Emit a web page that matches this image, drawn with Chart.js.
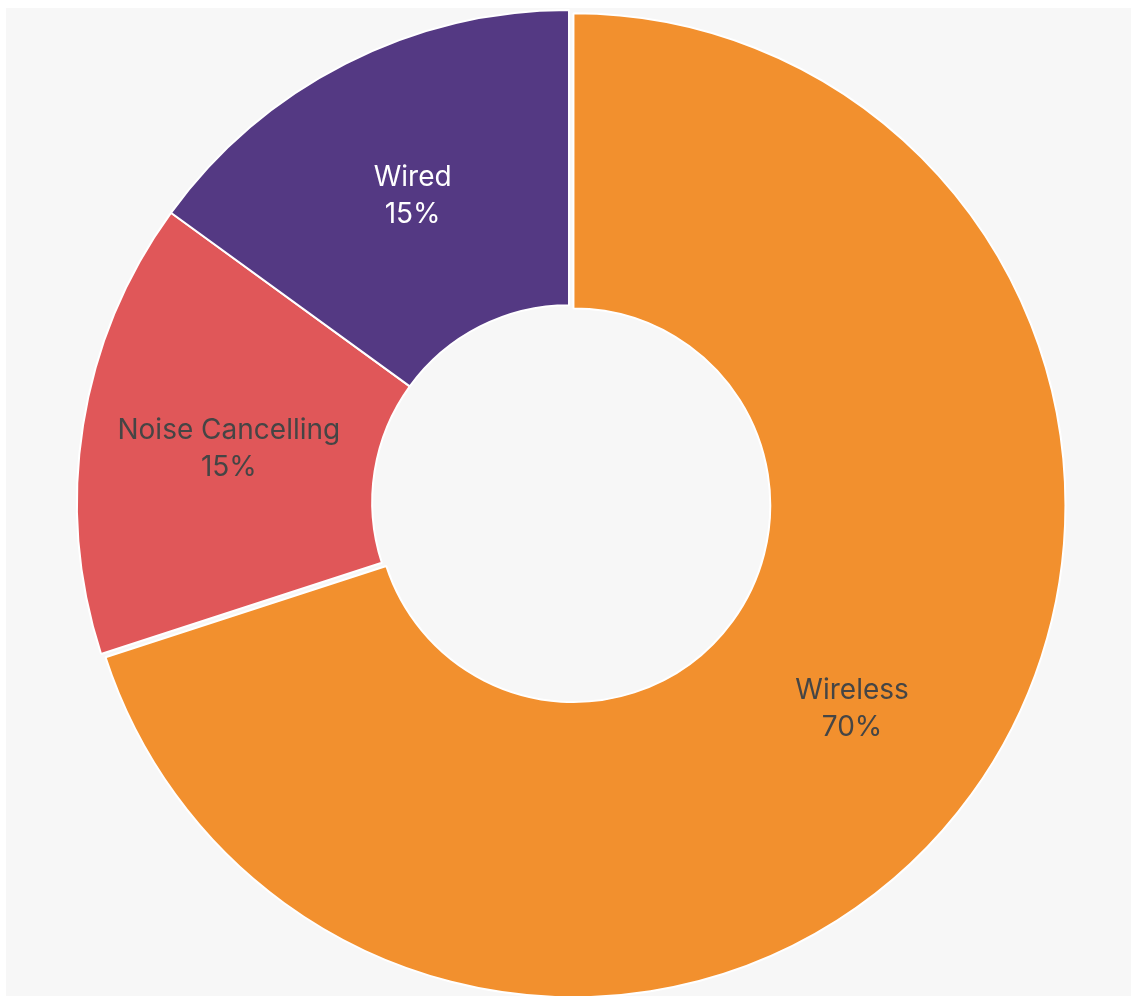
<!DOCTYPE html>
<html>
<head>
<meta charset="utf-8">
<title>Headphone types</title>
<script src="https://cdn.jsdelivr.net/npm/chart.js@4.4.1/dist/chart.umd.min.js"></script>
<style>
    html, body { margin: 0; padding: 0; background: #ffffff; overflow: hidden; }
    #panel { position: absolute; left: 6px; top: 8px; right: 0; bottom: 0; background: #f7f7f7; }
    #chart { position: absolute; left: 0; top: 0; }
</style>
</head>
<body>
<div id="panel"></div>
<canvas id="chart" width="1131" height="996"></canvas>
<script>
// headphone sales split by type
var categories = ['Wireless', 'Noise Cancelling', 'Wired'];
var shares = [70, 15, 15];
var colors = ['#f2902e', '#e05759', '#543983'];
var labelColors = ['#454545', '#454545', '#ffffff'];
var pull = [5.5, 0, 0];

// slides a segment outwards along its middle angle without growing it
// (the built-in `offset` option also widens the radii)
var pullSlices = {
    id: 'pullSlices',
    beforeDatasetsDraw: function (chart) {
        chart.getDatasetMeta(0).data.forEach(function (arc, i) {
            if (!pull[i] || arc.$pulled) return;
            var baseDraw = arc.draw;
            arc.draw = function (ctx) {
                var a = (this.startAngle + this.endAngle) / 2;
                ctx.save();
                ctx.translate(Math.cos(a) * pull[i], Math.sin(a) * pull[i]);
                baseDraw.call(this, ctx);
                ctx.restore();
            };
            arc.$pulled = true;
        });
    }
};

// writes "name / xx%" in the middle of each ring segment
var sliceLabels = {
    id: 'sliceLabels',
    afterDatasetsDraw: function (chart) {
        var ctx = chart.ctx;
        var meta = chart.getDatasetMeta(0);
        ctx.save();
        ctx.font = '400 28px Inter, "Noto Sans", sans-serif';
        ctx.textAlign = 'center';
        ctx.textBaseline = 'middle';
        meta.data.forEach(function (arc, i) {
            var p = arc.getProps(['x', 'y', 'startAngle', 'endAngle', 'innerRadius', 'outerRadius'], true);
            var mid = (p.startAngle + p.endAngle) / 2;
            var r = (p.innerRadius + p.outerRadius) / 2 + pull[i];
            var x = p.x + Math.cos(mid) * r;
            var y = p.y + Math.sin(mid) * r + 1;
            ctx.fillStyle = labelColors[i];
            ctx.fillText(categories[i], x, y - 18.5);
            ctx.fillText(shares[i] + '%', x, y + 18.5);
        });
        ctx.restore();
    }
};

new Chart(document.getElementById('chart'), {
    type: 'doughnut',
    data: {
        labels: categories,
        datasets: [{
            data: shares,
            backgroundColor: colors,
            borderColor: '#ffffff',
            borderWidth: 2,
            hoverOffset: 0,
            clip: false
        }]
    },
    options: {
        responsive: false,
        animation: false,
        cutout: '40%',
        layout: {
            padding: { left: 76, right: 69, top: 9, bottom: 1 }
        },
        plugins: {
            legend: { display: false },
            tooltip: { enabled: false }
        }
    },
    plugins: [pullSlices, sliceLabels]
});
</script>
</body>
</html>
